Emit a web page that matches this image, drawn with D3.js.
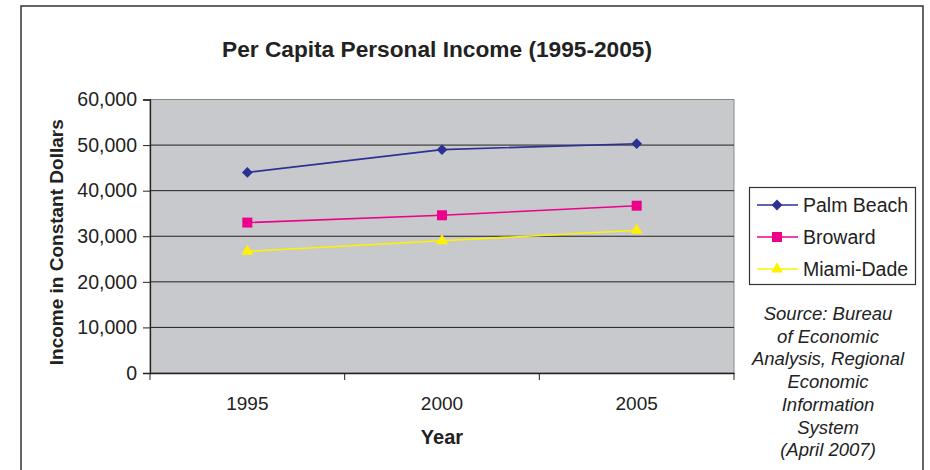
<!DOCTYPE html>
<html>
<head>
<meta charset="utf-8">
<script src="https://cdn.jsdelivr.net/npm/d3@7"></script>
<style>
  body { margin: 0; background: #fff; }
  svg { display: block; font-family: "Liberation Sans", Arial, sans-serif; }
</style>
</head>
<body>
<svg id="chart" width="930" height="470"></svg>
<script>
// data
const years = ["1995", "2000", "2005"];
const palmBeach = [44000, 49000, 50300];
const broward = [33000, 34600, 36700];
const miamiDade = [26700, 29000, 31300];
const yTicks = [0, 10000, 20000, 30000, 40000, 50000, 60000];
const sourceLines = ["Source: Bureau", "of Economic", "Analysis, Regional", "Economic", "Information", "System", "(April 2007)"];

const series = [
  { name: "Palm Beach", values: palmBeach, color: "#2e3192", marker: "diamond" },
  { name: "Broward", values: broward, color: "#ec008c", marker: "square" },
  { name: "Miami-Dade", values: miamiDade, color: "#fff200", marker: "triangle" }
];

const svg = d3.select("#chart");

// outer frame (no bottom edge visible)
svg.append("path")
  .attr("d", "M21,472 V6 H923 V472")
  .attr("fill", "none")
  .attr("stroke", "#333")
  .attr("stroke-width", 1.5);

const plotL = 150, plotR = 734, plotT = 99.5, plotB = 373;

const x = d3.scaleBand().domain(years).range([plotL, plotR]);
const y = d3.scaleLinear().domain([0, 60000]).range([plotB, plotT]);

// plot area
svg.append("rect")
  .attr("x", plotL).attr("y", plotT)
  .attr("width", plotR - plotL).attr("height", plotB - plotT)
  .attr("fill", "#c8c9cd")
  .attr("stroke", "#8a8a8a")
  .attr("stroke-width", 1);

// gridlines
svg.append("g").selectAll("line")
  .data(yTicks.filter(d => d > 0 && d < 60000))
  .join("line")
  .attr("x1", plotL).attr("x2", plotR)
  .attr("y1", d => y(d)).attr("y2", d => y(d))
  .attr("stroke", "#222")
  .attr("stroke-width", 1);

// y axis
const yAxis = svg.append("g")
  .attr("transform", `translate(${plotL},0)`)
  .call(d3.axisLeft(y).tickValues(yTicks).tickSize(7).tickPadding(6)
    .tickFormat(d3.format(",")));
yAxis.select(".domain").attr("stroke", "#222").attr("stroke-width", 1.3);
yAxis.selectAll(".tick line").attr("stroke", "#222");
yAxis.selectAll("text").attr("font-size", 19.5).attr("fill", "#222")
  .attr("font-family", "Liberation Sans, Arial, sans-serif");

// x axis, ticks between categories
const xAxis = svg.append("g")
  .attr("transform", `translate(0,${plotB})`)
  .call(d3.axisBottom(x).tickSize(0).tickPadding(24));
xAxis.select(".domain").attr("stroke", "#222").attr("stroke-width", 1.3);
xAxis.selectAll("text").attr("font-size", 19).attr("fill", "#222")
  .attr("font-family", "Liberation Sans, Arial, sans-serif");
xAxis.selectAll(".sep")
  .data([plotL, ...years.map(d => x(d) + x.bandwidth())])
  .join("line")
  .attr("class", "sep")
  .attr("x1", d => d).attr("x2", d => d)
  .attr("y1", 0).attr("y2", 7)
  .attr("stroke", "#222");

// lines
const line = d3.line()
  .x((d, i) => x(years[i]) + x.bandwidth() / 2)
  .y(d => y(d));

const sym = {
  diamond: d3.symbol().type(d3.symbolSquare).size(58),
  square: d3.symbol().type(d3.symbolSquare).size(100),
  triangle: d3.symbol().type(d3.symbolTriangle).size(60)
};
const rot = { diamond: 45, square: 0, triangle: 0 };

series.forEach(s => {
  svg.append("path")
    .datum(s.values)
    .attr("d", line)
    .attr("fill", "none")
    .attr("stroke", s.color)
    .attr("stroke-width", 1.6);
  svg.append("g").selectAll("path")
    .data(s.values)
    .join("path")
    .attr("d", sym[s.marker])
    .attr("transform", (d, i) => `translate(${x(years[i]) + x.bandwidth() / 2},${y(d)}) rotate(${rot[s.marker]})`)
    .attr("fill", s.color);
});

// title
svg.append("text")
  .attr("x", 437).attr("y", 57)
  .attr("text-anchor", "middle")
  .attr("font-size", 22.7).attr("font-weight", "bold").attr("fill", "#222")
  .text("Per Capita Personal Income (1995-2005)");

// axis titles
svg.append("text")
  .attr("transform", `translate(63,${(plotT + plotB) / 2 + 6}) rotate(-90)`)
  .attr("text-anchor", "middle")
  .attr("font-size", 19).attr("font-weight", "bold").attr("fill", "#222")
  .text("Income in Constant Dollars");

svg.append("text")
  .attr("x", (plotL + plotR) / 2).attr("y", 444)
  .attr("text-anchor", "middle")
  .attr("font-size", 20).attr("font-weight", "bold").attr("fill", "#222")
  .text("Year");

// legend
const legend = svg.append("g");
legend.append("rect")
  .attr("x", 749.5).attr("y", 187.5)
  .attr("width", 166).attr("height", 97)
  .attr("fill", "#fff")
  .attr("stroke", "#333").attr("stroke-width", 1.2);

series.forEach((s, i) => {
  const ly = 205 + i * 32;
  legend.append("line")
    .attr("x1", 757).attr("x2", 798)
    .attr("y1", ly).attr("y2", ly)
    .attr("stroke", s.color).attr("stroke-width", 1.6);
  legend.append("path")
    .attr("d", sym[s.marker])
    .attr("transform", `translate(777,${ly}) rotate(${rot[s.marker]})`)
    .attr("fill", s.color);
  legend.append("text")
    .attr("x", 803).attr("y", ly + 7)
    .attr("font-size", 19.5).attr("fill", "#222")
    .text(s.name);
});

// source note
svg.append("g").selectAll("text")
  .data(sourceLines)
  .join("text")
  .attr("x", 828)
  .attr("y", (d, i) => 320 + i * 22.7)
  .attr("text-anchor", "middle")
  .attr("font-size", 18.5).attr("font-style", "italic").attr("fill", "#222")
  .text(d => d);
</script>
</body>
</html>
